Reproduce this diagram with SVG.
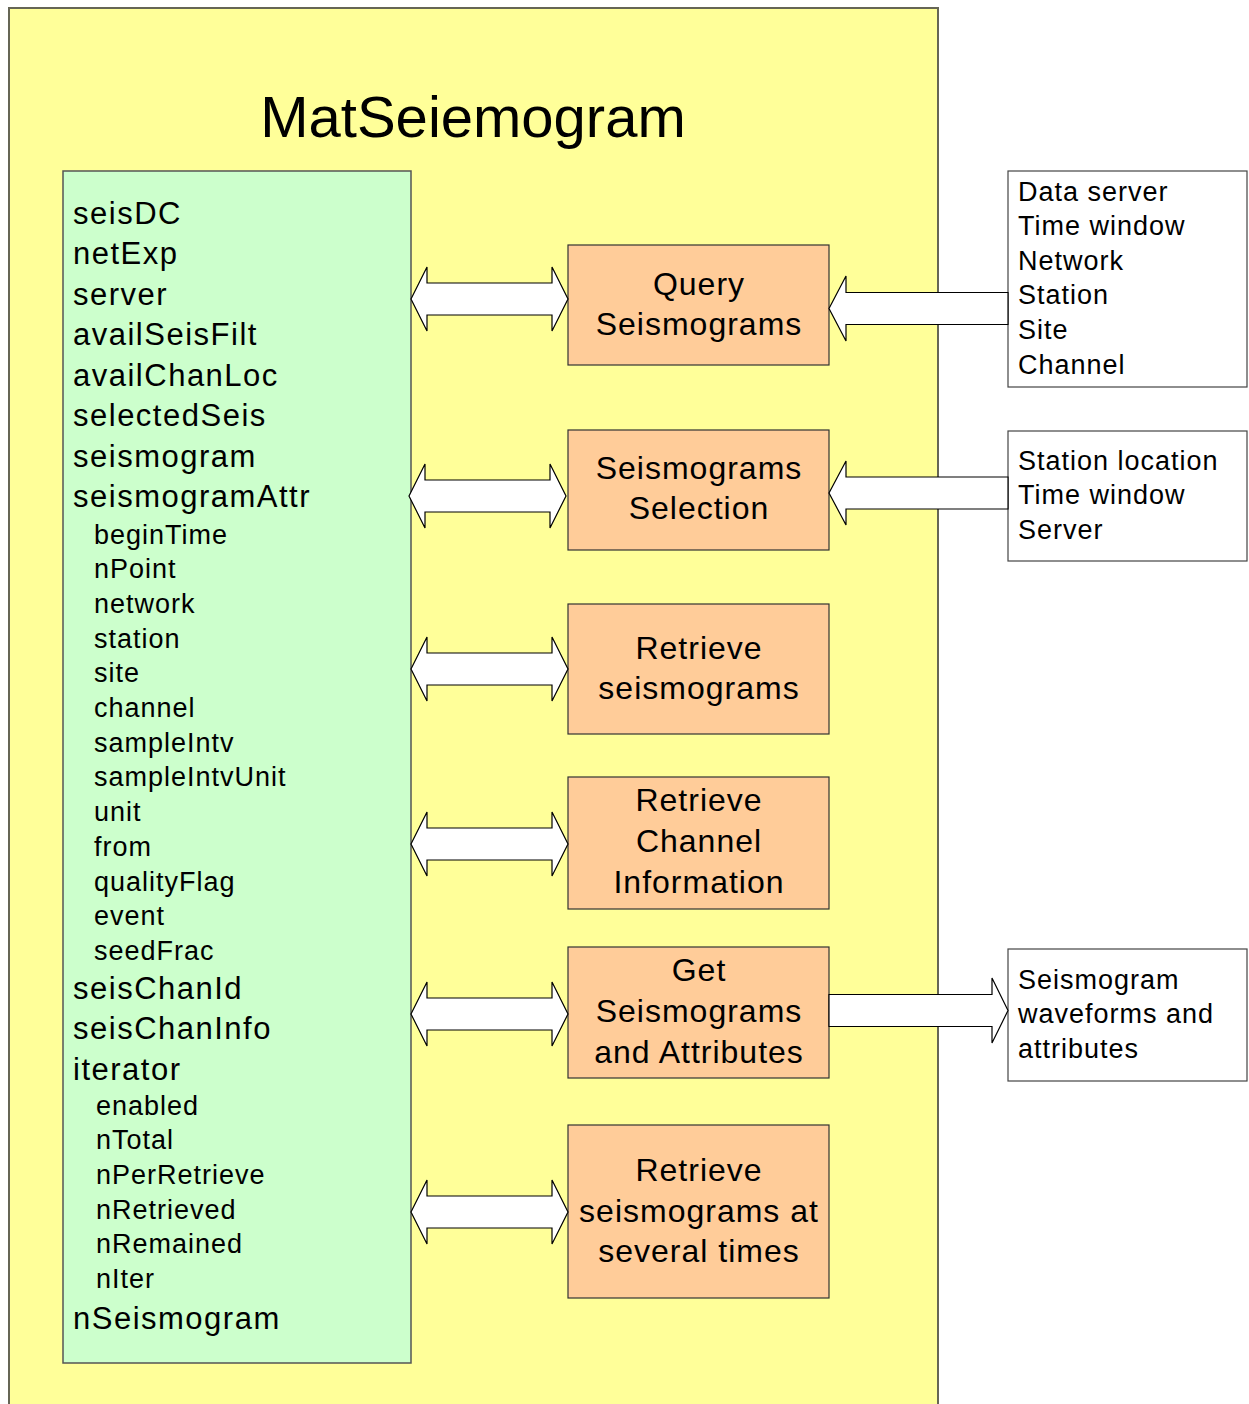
<svg xmlns="http://www.w3.org/2000/svg" width="1249" height="1404" viewBox="0 0 1249 1404">
<style>
  text { font-family: "Liberation Sans", Arial, sans-serif; fill: #000; }
  .big { font-size: 31px; letter-spacing: 1.5px; }
  .small { font-size: 27px; letter-spacing: 1px; }
  .box { font-size: 32px; letter-spacing: 1px; text-anchor: middle; }
  .proc { fill: #FFCC99; stroke: #333; stroke-width: 1.2; }
  .ext { fill: #FFFFFF; stroke: #444; stroke-width: 1.2; }
  .arrow { fill: #FFFFFF; stroke: #000; stroke-width: 1.2; stroke-linejoin: miter; }
</style>
<rect width="1249" height="1404" fill="#FFFFFF"/>
<g id="frame">
  <rect x="9" y="8" width="929" height="1410" fill="#FFFF99" stroke="#666655" stroke-width="2"/>
  <text x="473" y="137" font-size="58" text-anchor="middle">MatSeiemogram</text>
</g>
<g id="attributes">
  <rect x="63" y="171" width="348" height="1192" fill="#CCFFCC" stroke="#555" stroke-width="1.5"/>
  <text class="big" x="73" y="223.5">seisDC</text>
  <text class="big" x="73" y="264">netExp</text>
  <text class="big" x="73" y="304.5">server</text>
  <text class="big" x="73" y="345">availSeisFilt</text>
  <text class="big" x="73" y="385.5">availChanLoc</text>
  <text class="big" x="73" y="426">selectedSeis</text>
  <text class="big" x="73" y="466.5">seismogram</text>
  <text class="big" x="73" y="507">seismogramAttr</text>
  <text class="small" x="94" y="543.5">beginTime</text>
  <text class="small" x="94" y="578.2">nPoint</text>
  <text class="small" x="94" y="612.9">network</text>
  <text class="small" x="94" y="647.6">station</text>
  <text class="small" x="94" y="682.3">site</text>
  <text class="small" x="94" y="717">channel</text>
  <text class="small" x="94" y="751.7">sampleIntv</text>
  <text class="small" x="94" y="786.4">sampleIntvUnit</text>
  <text class="small" x="94" y="821.1">unit</text>
  <text class="small" x="94" y="855.8">from</text>
  <text class="small" x="94" y="890.5">qualityFlag</text>
  <text class="small" x="94" y="925.2">event</text>
  <text class="small" x="94" y="959.9">seedFrac</text>
  <text class="big" x="73" y="998.5">seisChanId</text>
  <text class="big" x="73" y="1039">seisChanInfo</text>
  <text class="big" x="73" y="1079.5">iterator</text>
  <text class="small" x="96" y="1114.5">enabled</text>
  <text class="small" x="96" y="1149.2">nTotal</text>
  <text class="small" x="96" y="1183.9">nPerRetrieve</text>
  <text class="small" x="96" y="1218.6">nRetrieved</text>
  <text class="small" x="96" y="1253.3">nRemained</text>
  <text class="small" x="96" y="1288">nIter</text>
  <text class="big" x="73" y="1328.5">nSeismogram</text>
</g>
<g id="query">
  <rect class="proc" x="568" y="245" width="261" height="120"/>
  <text class="box" x="699" y="295">Query</text>
  <text class="box" x="699" y="335">Seismograms</text>
</g>
<g id="selection">
  <rect class="proc" x="568" y="430" width="261" height="120"/>
  <text class="box" x="699" y="479">Seismograms</text>
  <text class="box" x="699" y="519">Selection</text>
</g>
<g id="retrieve">
  <rect class="proc" x="568" y="604" width="261" height="130"/>
  <text class="box" x="699" y="659">Retrieve</text>
  <text class="box" x="699" y="699">seismograms</text>
</g>
<g id="channel">
  <rect class="proc" x="568" y="777" width="261" height="132"/>
  <text class="box" x="699" y="811">Retrieve</text>
  <text class="box" x="699" y="852">Channel</text>
  <text class="box" x="699" y="893">Information</text>
</g>
<g id="getattr">
  <rect class="proc" x="568" y="947" width="261" height="131"/>
  <text class="box" x="699" y="981">Get</text>
  <text class="box" x="699" y="1022">Seismograms</text>
  <text class="box" x="699" y="1063">and Attributes</text>
</g>
<g id="several">
  <rect class="proc" x="568" y="1125" width="261" height="173"/>
  <text class="box" x="699" y="1181">Retrieve</text>
  <text class="box" x="699" y="1222">seismograms at</text>
  <text class="box" x="699" y="1262">several times</text>
</g>
<g id="input1">
  <rect class="ext" x="1008" y="171" width="239" height="216"/>
  <text class="small" x="1018" y="200.5">Data server</text>
  <text class="small" x="1018" y="235.1">Time window</text>
  <text class="small" x="1018" y="269.7">Network</text>
  <text class="small" x="1018" y="304.3">Station</text>
  <text class="small" x="1018" y="338.9">Site</text>
  <text class="small" x="1018" y="373.5">Channel</text>
</g>
<g id="input2">
  <rect class="ext" x="1008" y="431" width="239" height="130"/>
  <text class="small" x="1018" y="469.5">Station location</text>
  <text class="small" x="1018" y="504.1">Time window</text>
  <text class="small" x="1018" y="538.7">Server</text>
</g>
<g id="output">
  <rect class="ext" x="1008" y="949" width="239" height="132"/>
  <text class="small" x="1018" y="988.5">Seismogram</text>
  <text class="small" x="1018" y="1023.1">waveforms and</text>
  <text class="small" x="1018" y="1057.7">attributes</text>
</g>
<g id="connectors">
  <polygon class="arrow" points="411,299 427,267 427,283 552,283 552,267 568,299 552,331 552,315 427,315 427,331"/>
  <polygon class="arrow" points="409,496 425,464 425,480 550,480 550,464 566,496 550,528 550,512 425,512 425,528"/>
  <polygon class="arrow" points="411,669 427,637 427,653 552,653 552,637 568,669 552,701 552,685 427,685 427,701"/>
  <polygon class="arrow" points="411,844 427,812 427,828 552,828 552,812 568,844 552,876 552,860 427,860 427,876"/>
  <polygon class="arrow" points="411,1014 427,982 427,998 552,998 552,982 568,1014 552,1046 552,1030 427,1030 427,1046"/>
  <polygon class="arrow" points="411,1212 427,1180 427,1196 552,1196 552,1180 568,1212 552,1244 552,1228 427,1228 427,1244"/>
  <polygon class="arrow" points="829,308.5 846,276 846,292.5 1008,292.5 1008,324.5 846,324.5 846,341"/>
  <polygon class="arrow" points="829,493 846,461 846,477 1008,477 1008,509 846,509 846,525"/>
  <polygon class="arrow" points="829,994.5 992,994.5 992,978 1008,1010.5 992,1043 992,1026.5 829,1026.5"/>
</g>
</svg>
